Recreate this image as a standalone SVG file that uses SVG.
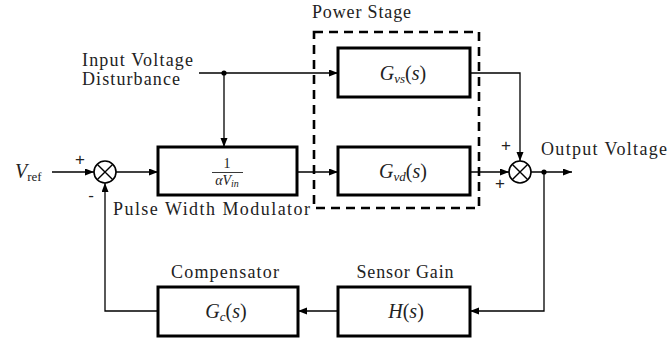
<svg xmlns="http://www.w3.org/2000/svg" width="669" height="341" viewBox="0 0 669 341">
<defs>
<style>
text{font-family:'Liberation Serif','DejaVu Serif',serif;fill:#222}
.lbl{font-size:18px}
.math{font-size:20px}
.it{font-style:italic}
.sub{font-size:13px;font-style:italic}
.subr{font-size:13px}
.box{fill:#fff;stroke:#000;stroke-width:3}
.wire{fill:none;stroke:#000;stroke-width:1.3}
.sum{fill:#fff;stroke:#000;stroke-width:1.6}
.sign{font-family:'Liberation Sans','DejaVu Sans',sans-serif;font-size:17px}
</style>
<marker id="arr" markerUnits="userSpaceOnUse" markerWidth="10" markerHeight="8" refX="9" refY="3.5" orient="auto">
<path d="M0,0 L9,3.5 L0,7 z" fill="#000"/>
</marker>
</defs>
<rect width="669" height="341" fill="#fff"/>

<g id="power-stage">
<rect x="314" y="32" width="165" height="176" fill="none" stroke="#000" stroke-width="2.6" stroke-dasharray="9,6"/>
<text class="lbl" x="312" y="18" textLength="99">Power Stage</text>
</g>

<g id="connectors">
<line class="wire" x1="52" y1="172" x2="94" y2="172" marker-end="url(#arr)"/>
<line class="wire" x1="116" y1="172" x2="158" y2="172" marker-end="url(#arr)"/>
<line class="wire" x1="199" y1="73" x2="338" y2="73" marker-end="url(#arr)"/>
<line class="wire" x1="224" y1="73" x2="224" y2="147" marker-end="url(#arr)"/>
<circle cx="224" cy="73" r="2.6" fill="#000"/>
<line class="wire" x1="297" y1="172" x2="338" y2="172" marker-end="url(#arr)"/>
<polyline class="wire" points="470,73 520,73 520,161" marker-end="url(#arr)"/>
<line class="wire" x1="470" y1="172" x2="509" y2="172" marker-end="url(#arr)"/>
<line class="wire" x1="531" y1="172" x2="572" y2="172" marker-end="url(#arr)"/>
<circle cx="544" cy="172" r="2.6" fill="#000"/>
<polyline class="wire" points="544,172 544,311 470,311" marker-end="url(#arr)"/>
<line class="wire" x1="338" y1="311" x2="298" y2="311" marker-end="url(#arr)"/>
<polyline class="wire" points="158,311 105,311 105,183" marker-end="url(#arr)"/>
</g>

<g id="vref">
<text class="math" x="15" y="178"><tspan class="it">V</tspan><tspan class="subr" dy="3">ref</tspan></text>
</g>

<g id="sum1">
<circle class="sum" cx="105" cy="172" r="11"/>
<path d="M97.2,164.2 L112.8,179.8 M112.8,164.2 L97.2,179.8" stroke="#000" stroke-width="1.4"/>
<text class="sign" x="80" y="165" text-anchor="middle">+</text>
<text class="sign" x="91" y="201" text-anchor="middle">-</text>
</g>

<g id="pwm">
<rect class="box" x="158" y="147" width="139" height="48"/>
<text x="227" y="168" text-anchor="middle" font-size="14">1</text>
<line x1="212" y1="172.5" x2="243" y2="172.5" stroke="#222" stroke-width="0.9"/>
<text x="227" y="185" text-anchor="middle" font-size="14"><tspan class="it">αV</tspan><tspan font-style="italic" font-size="10" dy="2">in</tspan></text>
<text class="lbl" x="113" y="215" textLength="197">Pulse Width Modulator</text>
</g>

<g id="disturbance">
<text class="lbl" x="82" y="66" textLength="111">Input Voltage</text>
<text class="lbl" x="82" y="85" textLength="98">Disturbance</text>
</g>

<g id="gvs">
<rect class="box" x="338" y="48" width="132" height="49"/>
<text class="math" x="403" y="80" text-anchor="middle"><tspan class="it">G</tspan><tspan class="sub" dy="3">vs</tspan><tspan dy="-3">(</tspan><tspan class="it">s</tspan><tspan>)</tspan></text>
</g>

<g id="gvd">
<rect class="box" x="338" y="147" width="132" height="48"/>
<text class="math" x="403" y="178" text-anchor="middle"><tspan class="it">G</tspan><tspan class="sub" dy="3">vd</tspan><tspan dy="-3">(</tspan><tspan class="it">s</tspan><tspan>)</tspan></text>
</g>

<g id="sum2">
<circle class="sum" cx="520" cy="172" r="11"/>
<path d="M512.2,164.2 L527.8,179.8 M527.8,164.2 L512.2,179.8" stroke="#000" stroke-width="1.4"/>
<text class="sign" x="506" y="151" text-anchor="middle">+</text>
<text class="sign" x="500" y="189" text-anchor="middle">+</text>
</g>

<g id="output">
<text class="lbl" x="541" y="155" textLength="126">Output Voltage</text>
</g>

<g id="sensor">
<rect class="box" x="338" y="287" width="132" height="49"/>
<text class="math" x="406" y="318" text-anchor="middle"><tspan class="it">H</tspan>(<tspan class="it">s</tspan>)</text>
<text class="lbl" x="405" y="278" text-anchor="middle" textLength="97">Sensor Gain</text>
</g>

<g id="compensator">
<rect class="box" x="158" y="287" width="140" height="49"/>
<text class="math" x="226" y="318" text-anchor="middle"><tspan class="it">G</tspan><tspan class="sub" dy="3">c</tspan><tspan dy="-3">(</tspan><tspan class="it">s</tspan><tspan>)</tspan></text>
<text class="lbl" x="225" y="278" text-anchor="middle" textLength="108">Compensator</text>
</g>
</svg>
